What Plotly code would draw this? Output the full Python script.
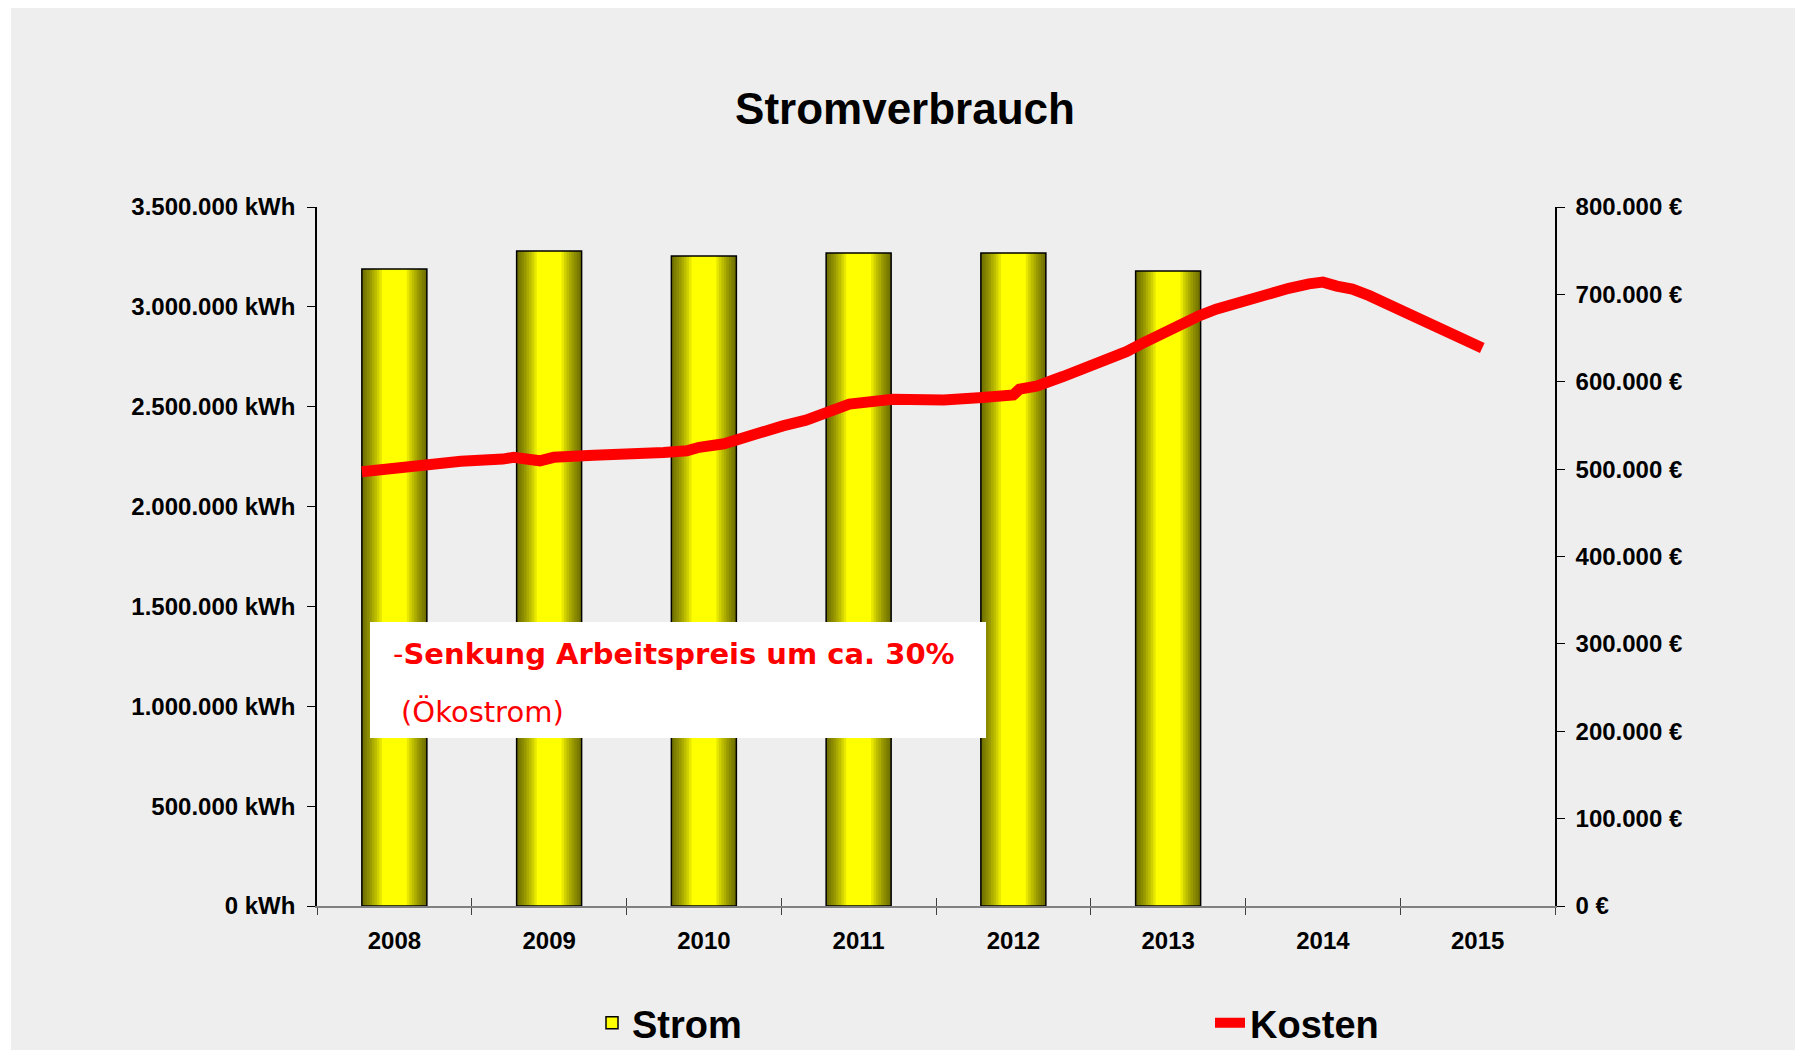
import plotly.graph_objects as go

# Stromverbrauch (bars, left axis) and Kosten (line, right axis)
years = ["2008", "2009", "2010", "2011", "2012", "2013", "2014", "2015"]
strom_kwh = [3190000, 3280000, 3255000, 3270000, 3270000, 3180000, None, None]

# cost curve, x as fractional years
kosten_x = [2007.79, 2008.03, 2008.08, 2008.32, 2008.43, 2008.70, 2008.77, 2008.94,
            2009.03, 2009.29, 2009.48, 2009.54, 2009.74, 2009.89, 2009.97, 2010.13,
            2010.28, 2010.38, 2010.51, 2010.66, 2010.80, 2010.94, 2011.22, 2011.55,
            2011.80, 2012.00, 2012.04, 2012.15, 2012.32, 2012.49, 2012.62, 2012.73,
            2012.84, 2012.94, 2013.07, 2013.20, 2013.31, 2013.42, 2013.53, 2013.63,
            2013.78, 2013.91, 2014.00, 2014.09, 2014.19, 2014.30, 2014.43, 2014.56,
            2014.67, 2014.80, 2014.92, 2015.03]
kosten_eur = [497000, 502000, 504500, 506500, 509000, 511500, 513500, 509500,
              513500, 516000, 516000, 518000, 519000, 521000, 525000, 529000,
              537000, 545000, 549500, 556000, 566000, 574500, 580000, 579000,
              582000, 585000, 591500, 595000, 606000, 618000, 625000, 634500,
              644500, 653500, 663000, 675500, 683000, 689000, 695500, 702000,
              707000, 712000, 714000, 709500, 706000, 698500, 688000, 677500,
              668500, 657500, 646000, 638500]

FONT = "Liberation Sans, Arial, sans-serif"
BAR_W = 0.42
N_SHADE = 8
PAGE_PAD = 8   # the html body margin shifts the figure by this much
W, H = 1803, 1050

fig = go.Figure()

# base bar (yellow with black outline) - carries the legend entry
fig.add_trace(go.Bar(
    x=years, y=strom_kwh, width=BAR_W, name="Strom", legend="legend",
    marker=dict(color="#ffff00", line=dict(color="black", width=1.5)),
))

# darken both edges with thin translucent strips -> cylinder-like gradient
for k in range(N_SHADE):
    w = 0.13 * (N_SHADE - k) / N_SHADE
    for off in (-BAR_W / 2, BAR_W / 2 - w):
        fig.add_trace(go.Bar(
            x=years, y=strom_kwh, width=w, offset=off, showlegend=False,
            hoverinfo="skip",
            marker=dict(color="rgba(0,0,0,0.095)", line=dict(width=0)),
        ))

fig.add_trace(go.Scatter(
    x=kosten_x, y=kosten_eur, xaxis="x2", yaxis="y2", mode="lines",
    name="Kosten", legend="legend2",
    line=dict(color="#ff0000", width=11),
))

tick_font = dict(family=FONT, size=24, color="black", weight="bold")
legend_font = dict(family=FONT, size=38, weight="bold", color="black")

fig.update_layout(
    width=W, height=H,
    margin=dict(l=317 - PAGE_PAD, r=248 + PAGE_PAD,
                t=207 - PAGE_PAD, b=144 + PAGE_PAD, autoexpand=False),
    paper_bgcolor="#eeeeee", plot_bgcolor="#eeeeee",
    separators=",.",
    barmode="overlay",
    font=dict(family=FONT, color="black"),
    title=dict(text="Stromverbrauch", x=(905 - PAGE_PAD) / W, xanchor="center",
               y=1 - (109 - PAGE_PAD) / H, yanchor="middle",
               font=dict(family=FONT, size=44, weight="bold", color="black")),
    xaxis=dict(type="category", categoryorder="array", categoryarray=years,
               range=[-0.5, len(years) - 0.5],
               showline=True, linecolor="#808080", linewidth=2,
               ticks="outside", tickson="boundaries", ticklen=7,
               tickcolor="#404040", tickwidth=1,
               showgrid=False, zeroline=False,
               tickfont=tick_font, ticklabelstandoff=12),
    xaxis2=dict(overlaying="x", anchor="y2", range=[2007.5, 2015.5],
                tick0=2007.5, dtick=1, ticks="inside", ticklen=8,
                tickcolor="#404040", showticklabels=False,
                showline=False, showgrid=False, zeroline=False),
    yaxis=dict(range=[0, 3500000], dtick=500000, tickformat=",d",
               ticksuffix=" kWh", showline=True, linecolor="black",
               linewidth=1.5, ticks="outside", ticklen=8, tickcolor="black",
               showgrid=False, zeroline=False,
               tickfont=tick_font, ticklabelstandoff=7),
    yaxis2=dict(overlaying="y", side="right", anchor="x2",
                range=[0, 800000], dtick=100000, tickformat=",d",
                ticksuffix=" €", showline=True, linecolor="black",
                linewidth=1.5, ticks="outside", ticklen=8, tickcolor="black",
                showgrid=False, zeroline=False,
                tickfont=tick_font, ticklabelstandoff=6),
    legend=dict(x=(592 - 317) / 1238, xanchor="left",
                y=(906 - 1023) / 699, yanchor="middle",
                bgcolor="rgba(0,0,0,0)", font=legend_font),
    legend2=dict(x=(1210 - 317) / 1238, xanchor="left",
                 y=(906 - 1023) / 699, yanchor="middle",
                 bgcolor="rgba(0,0,0,0)", font=legend_font),
    showlegend=True,
)

# white text box over the bars
fig.add_shape(type="rect", xref="paper", yref="paper",
              x0=(370 - 317) / 1238, x1=(986 - 317) / 1238,
              y0=(906 - 738) / 699, y1=(906 - 622) / 699,
              fillcolor="white", line=dict(width=0), layer="above")

# thin white border at the left of the picture
fig.add_shape(type="rect", xref="paper", yref="paper",
              x0=-0.3, x1=(11 - 317) / 1238, y0=-0.3, y1=1.4,
              fillcolor="white", line=dict(width=0), layer="above")

fig.add_annotation(xref="paper", yref="paper",
                   x=(391 - 317) / 1238, y=(906 - 654) / 699,
                   xanchor="left", yanchor="middle", showarrow=False,
                   text="-<b>Senkung Arbeitspreis um ca. 30%</b>",
                   font=dict(family="DejaVu Sans", size=29, color="#ff0000"))
fig.add_annotation(xref="paper", yref="paper",
                   x=(399 - 317) / 1238, y=(906 - 712) / 699,
                   xanchor="left", yanchor="middle", showarrow=False,
                   text="(Ökostrom)",
                   font=dict(family="DejaVu Sans", size=29, color="#ff0000"))

fig.write_html("out.html")
